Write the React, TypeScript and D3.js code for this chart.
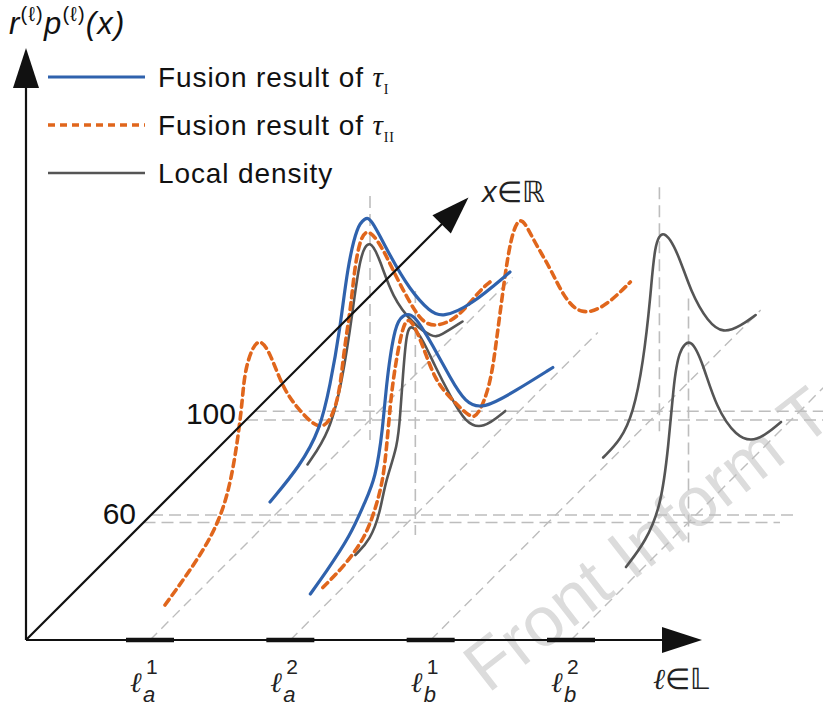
import React from 'react'
import * as d3 from 'd3'

const W = 823
const H = 706

// labels on the ℓ axis
const labels = ['a1', 'a2', 'b1', 'b2']
const labelSub = ['a', 'a', 'b', 'b']
const labelSup = ['1', '2', '1', '2']

// ticks on the x axis (diagonal)
const xTicks = [60, 100]
const xAxisMax = 189

// fusion result of tau_I  [x, r*p(x)]
const blueA: [number, number][] = [[60, 0.09], [72, 0.12], [80, 0.2], [84, 0.37], [88, 0.6], [91, 0.88], [95, 1.04], [98, 1.03], [100, 1.02], [108, 0.72], [116, 0.45], [124, 0.24], [129, 0.15], [140, 0.07], [156, 0.04]]
const blueB: [number, number][] = [[20, 0.13], [26, 0.16], [36, 0.22], [42, 0.32], [46, 0.38], [49, 0.59], [50.5, 0.82], [54, 1.06], [57, 1.06], [61, 1.03], [69, 0.76], [76, 0.51], [82, 0.31], [89, 0.19], [102, 0.12], [117, 0.05]]

// fusion result of tau_II
const orangeA: [number, number][] = [[18, 0.1], [35, 0.18], [43, 0.31], [47, 0.55], [49, 0.74], [50, 0.89], [55, 0.99], [60, 0.84], [65, 0.6], [71, 0.42], [80, 0.19], [85, 0.2], [88, 0.3], [89.5, 0.47], [92, 0.64], [93, 0.74], [94.5, 0.89], [98, 1.01], [105, 0.8], [109, 0.64], [115, 0.42], [121, 0.22], [127, 0.13], [135, 0.07], [144, 0.1], [148, 0.09]]
const orangeB: [number, number][] = [[25, 0.1], [34, 0.1], [42, 0.14], [46, 0.23], [49, 0.33], [50.5, 0.48], [52, 0.68], [53.5, 0.82], [57, 1.02], [60, 1.02], [65, 0.81], [70, 0.57], [76, 0.41], [84, 0.21], [87, 0.18], [92, 0.27], [94.5, 0.47], [97, 0.68], [100, 0.91], [104, 0.99], [109, 0.79], [116, 0.56], [121, 0.36], [128, 0.17], [138, 0.09], [148, 0.09]]

// local density
const grayA: [number, number][] = [[75, 0.09], [84, 0.14], [89, 0.34], [93, 0.62], [96, 0.88], [100, 0.91], [104, 0.75], [109, 0.5], [117, 0.27], [125, 0.1], [128, 0.07], [137, 0.03]]
const grayB: [number, number][] = [[38, 0.1], [44, 0.1], [48, 0.19], [50, 0.32], [55, 0.43], [56, 0.59], [57, 0.75], [58.5, 0.98], [61, 0.96], [65, 0.84], [70, 0.64], [76, 0.42], [82, 0.21], [89, 0.09], [98, 0.07]]
const grayC: [number, number][] = [[81, 0.05], [88, 0.05], [93, 0.12], [97, 0.32], [100, 0.62], [101.5, 0.86], [105, 0.9], [111, 0.7], [116, 0.44], [123, 0.2], [129, 0.07], [136, 0.02], [142, 0.0]]
const grayD: [number, number][] = [[34, 0.09], [42, 0.12], [48, 0.22], [51, 0.48], [53, 0.76], [55, 0.91], [60, 0.92], [65, 0.71], [70, 0.44], [78, 0.19], [86, 0.06], [96, 0.04]]

// peak guides (label, x)
const peakLabels = ['a1', 'b1', 'a2', 'b2']
const peakX = [100, 103.5, 62, 59]

// how far each label's x line runs
const floorEnd = [157, 135, 144, 118]

const BLUE = '#2f62ad'
const ORANGE = '#e0661c'
const GRAY = '#555555'
const GUIDE = '#bdbdbd'
const SANS = 'Liberation Sans, Arial, sans-serif'
const SERIF = 'Liberation Serif, Times New Roman, serif'

const O = { x: 26, y: 640 }
const lx = d3.scalePoint<string>().domain(labels).range([150, 571])
const depth = d3.scaleLinear().domain([60, 100]).range([120, 220])
const height = d3.scaleLinear().domain([0, 1]).range([0, 200])

const pt = (label: string, xv: number, p: number): [number, number] => {
  const d = depth(xv)
  return [(lx(label) as number) + d, O.y - d - height(p)]
}

const line = d3.line<[number, number]>().curve(d3.curveBasis)

const curves = [
  { label: 'a1', data: grayA, kind: 'gray' },
  { label: 'a2', data: grayB, kind: 'gray' },
  { label: 'b1', data: grayC, kind: 'gray' },
  { label: 'b2', data: grayD, kind: 'gray' },
  { label: 'a1', data: orangeA, kind: 'orange' },
  { label: 'a2', data: orangeB, kind: 'orange' },
  { label: 'a1', data: blueA, kind: 'blue' },
  { label: 'a2', data: blueB, kind: 'blue' },
]

const styleOf = (kind: string) =>
  kind === 'blue'
    ? { stroke: BLUE, strokeWidth: 3.2 }
    : kind === 'orange'
    ? { stroke: ORANGE, strokeWidth: 3.6, strokeDasharray: '7 5' }
    : { stroke: GRAY, strokeWidth: 2.6 }

const legend = [
  { kind: 'blue', text: 'Fusion result of ', sub: 'I' },
  { kind: 'orange', text: 'Fusion result of ', sub: 'II' },
  { kind: 'gray', text: 'Local density', sub: '' },
]

function arrowHead(tx: number, ty: number, ux: number, uy: number, len = 40, half = 13) {
  const bx = tx - ux * len
  const by = ty - uy * len
  const nx = -uy
  const ny = ux
  return `${tx},${ty} ${bx + nx * half},${by + ny * half} ${bx - nx * half},${by - ny * half}`
}

export default function App() {
  const dTip = depth(xAxisMax)
  const tip = { x: O.x + dTip, y: O.y - dTip }
  const s2 = Math.SQRT1_2
  const hEndX = 702
  const vTopY = 48

  return (
    <svg width={W} height={H} style={{ position: 'absolute', left: 0, top: 0, background: '#fff' }}>
      {/* watermark */}
      <text
        x={488}
        y={694}
        transform="rotate(-38 488 694)"
        fontFamily={SANS}
        fontSize={70}
        fill="#dcdcdc"
      >
        Front Inform T
      </text>

      {/* x lines for each label */}
      {labels.map((l, i) => {
        const a = pt(l, depth.invert(0), 0)
        const b = pt(l, floorEnd[i], 0)
        return (
          <line key={'f' + l} x1={a[0]} y1={a[1]} x2={b[0]} y2={b[1]} stroke={GUIDE} strokeWidth={1.4} strokeDasharray="10 6" />
        )
      })}

      {/* horizontal guides from the x axis */}
      {peakLabels.map((l, i) => {
        const d = depth(peakX[i])
        const xEnd = peakX[i] > 80 ? W : i === 2 ? 793 : 780
        return (
          <line key={'h' + i} x1={O.x + d} y1={O.y - d} x2={xEnd} y2={O.y - d} stroke={GUIDE} strokeWidth={1.6} strokeDasharray="12 6" />
        )
      })}

      {/* vertical guides through the peaks */}
      {peakLabels.map((l, i) => {
        const top = pt(l, peakX[i], 1.12)
        const bot = pt(l, peakX[i], -0.1)
        return (
          <line key={'v' + i} x1={top[0]} y1={top[1]} x2={bot[0]} y2={bot[1]} stroke={GUIDE} strokeWidth={1.6} strokeDasharray="12 6" />
        )
      })}

      {/* curves */}
      {curves.map((c, i) => (
        <path
          key={'c' + i}
          d={line(c.data.map(([xv, p]) => pt(c.label, xv, p))) || ''}
          fill="none"
          strokeLinecap="round"
          strokeLinejoin="round"
          {...styleOf(c.kind)}
        />
      ))}

      {/* axes */}
      <g stroke="#111" fill="#111">
        <line x1={O.x} y1={O.y} x2={O.x} y2={vTopY + 38} strokeWidth={2.2} />
        <polygon points={arrowHead(O.x, vTopY, 0, -1)} stroke="none" />
        <line x1={O.x} y1={O.y} x2={hEndX - 38} y2={O.y} strokeWidth={2.2} />
        <polygon points={arrowHead(hEndX, O.y, 1, 0)} stroke="none" />
        <line x1={O.x} y1={O.y} x2={tip.x - 34 * s2} y2={tip.y + 34 * s2} strokeWidth={2.2} />
        <polygon points={arrowHead(tip.x, tip.y, s2, -s2, 38, 13)} stroke="none" />
        {labels.map((l) => (
          <line key={'t' + l} x1={(lx(l) as number) - 24} x2={(lx(l) as number) + 24} y1={O.y} y2={O.y} strokeWidth={4.5} />
        ))}
      </g>

      {/* x axis ticks */}
      {xTicks.map((t) => {
        const d = depth(t)
        return (
          <text key={'xt' + t} x={O.x + d - 10} y={O.y - d + 4} textAnchor="end" fontFamily={SANS} fontSize={30} fill="#111">
            {t}
          </text>
        )
      })}

      {/* ℓ labels */}
      {labels.map((l, i) => {
        const x = (lx(l) as number) - 20
        return (
          <g key={'lb' + l} fill="#222">
            <text x={x} y={692} fontFamily={SERIF} fontStyle="italic" fontSize={28}>
              ℓ
            </text>
            <text x={x + 16} y={674} fontFamily={SANS} fontSize={21}>
              {labelSup[i]}
            </text>
            <text x={x + 13} y={702} fontFamily={SANS} fontStyle="italic" fontSize={22}>
              {labelSub[i]}
            </text>
          </g>
        )
      })}
      <text x={653} y={689} fontFamily={SERIF} fontSize={29} fill="#222">
        <tspan fontStyle="italic">ℓ</tspan>∈𝕃
      </text>

      {/* x ∈ ℝ */}
      <text x={482} y={202} fontFamily={SANS} fontSize={29} fill="#222">
        <tspan fontStyle="italic">x</tspan>
        <tspan fontFamily={SERIF}>∈ℝ</tspan>
      </text>

      {/* y title */}
      <text x={9} y={34} fontFamily={SANS} fontStyle="italic" fontSize={31} letterSpacing={1.2} fill="#111">
        r<tspan fontSize={20} dy={-13} fontStyle="normal">(ℓ)</tspan>
        <tspan dy={13}>p</tspan>
        <tspan fontSize={20} dy={-13} fontStyle="normal">(ℓ)</tspan>
        <tspan dy={13}>(x)</tspan>
      </text>

      {/* legend */}
      {legend.map((it, i) => {
        const y = 77 + i * 48
        return (
          <g key={'lg' + i}>
            <line x1={48} x2={145} y1={y} y2={y} fill="none" {...styleOf(it.kind)} />
            <text x={158} y={y + 10} fontFamily={SANS} fontSize={28} letterSpacing={0.9} fill="#111">
              {it.text}
              {it.sub && (
                <>
                  <tspan fontFamily={SERIF} fontStyle="italic" fontSize={29}>τ</tspan>
                  <tspan fontFamily={SERIF} fontSize={14} dy={7}>{it.sub}</tspan>
                </>
              )}
            </text>
          </g>
        )
      })}
    </svg>
  )
}
